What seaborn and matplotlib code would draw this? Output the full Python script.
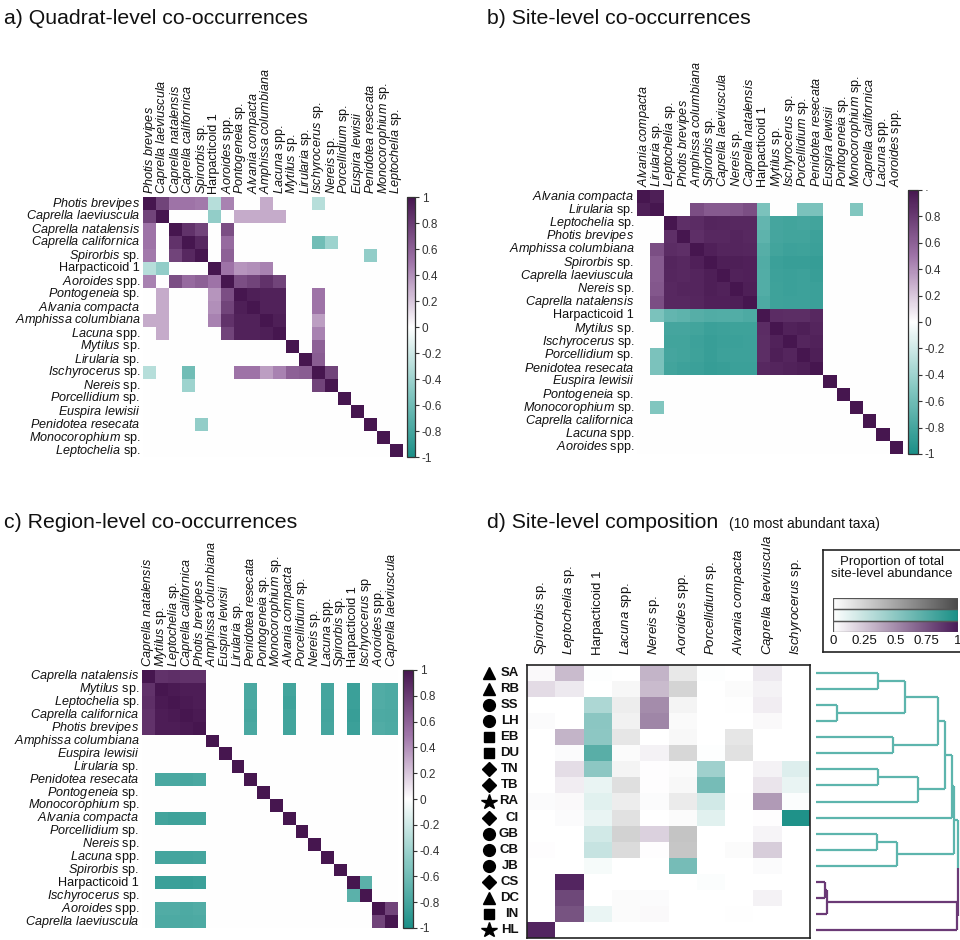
import numpy as np
import pandas as pd
import matplotlib
matplotlib.use("Agg")
import matplotlib.pyplot as plt
import matplotlib.transforms as mtransforms
from matplotlib.colors import LinearSegmentedColormap
from matplotlib.patches import Rectangle
import seaborn as sns

sns.set_theme(style="white")
plt.rcParams["font.family"] = ["Liberation Sans", "DejaVu Sans"]
plt.rcParams["mathtext.fontset"] = "custom"
plt.rcParams["mathtext.it"] = "Liberation Sans:italic"
plt.rcParams["mathtext.rm"] = "Liberation Sans"
plt.rcParams["mathtext.bf"] = "Liberation Sans:bold"

# ---------------- a) quadrat-level co-occurrences ----------------
taxa_a = ["Photis brevipes", "Caprella laeviuscula", "Caprella natalensis",
          "Caprella californica", "Spirorbis sp.", "Harpacticoid 1", "Aoroides spp.",
          "Pontogeneia sp.", "Alvania compacta", "Amphissa columbiana", "Lacuna spp.",
          "Mytilus sp.", "Lirularia sp.", "Ischyrocerus sp.", "Nereis sp.",
          "Porcellidium sp.", "Euspira lewisii", "Penidotea resecata",
          "Monocorophium sp.", "Leptochelia sp."]
# (row, column, correlation) for the upper triangle; the diagonal is 1
pairs_a = [(0, 1, 0.75), (0, 2, 0.50), (0, 3, 0.50), (0, 4, 0.48), (0, 5, -0.30),
           (0, 6, 0.45), (0, 9, 0.30), (0, 13, -0.30),
           (1, 5, -0.45), (1, 7, 0.30), (1, 8, 0.30), (1, 9, 0.30), (1, 10, 0.30),
           (2, 3, 0.85), (2, 4, 0.75), (2, 6, 0.70),
           (3, 4, 0.90), (3, 6, 0.55), (3, 13, -0.60), (3, 14, -0.40),
           (4, 6, 0.60), (4, 17, -0.45),
           (5, 6, 0.50), (5, 7, 0.38), (5, 8, 0.40), (5, 9, 0.45),
           (6, 7, 0.70), (6, 8, 0.75), (6, 9, 0.85), (6, 10, 0.75),
           (7, 8, 0.95), (7, 9, 0.93), (7, 10, 0.93), (7, 13, 0.50),
           (8, 9, 0.93), (8, 10, 0.93), (8, 13, 0.50),
           (9, 10, 0.95), (9, 13, 0.35), (10, 13, 0.45),
           (11, 13, 0.60), (12, 13, 0.62), (13, 14, 0.75)]

# ---------------- b) site-level co-occurrences ----------------
taxa_b = ["Alvania compacta", "Lirularia sp.", "Leptochelia sp.", "Photis brevipes",
          "Amphissa columbiana", "Spirorbis sp.", "Caprella laeviuscula", "Nereis sp.",
          "Caprella natalensis", "Harpacticoid 1", "Mytilus sp.", "Ischyrocerus sp.",
          "Porcellidium sp.", "Penidotea resecata", "Euspira lewisii", "Pontogeneia sp.",
          "Monocorophium sp.", "Caprella californica", "Lacuna spp.", "Aoroides spp."]
# lower triangle of the first 14 taxa
lower_b = [
    [1.00],
    [0.95, 1.00],
    [0, 0, 1.00],
    [0, 0, 0.86, 1.00],
    [0, 0.70, 0.88, 0.86, 1.00],
    [0, 0.64, 0.92, 0.90, 0.94, 1.00],
    [0, 0.64, 0.91, 0.90, 0.92, 0.95, 1.00],
    [0, 0.65, 0.90, 0.92, 0.92, 0.95, 0.93, 1.00],
    [0, 0.70, 0.90, 0.90, 0.91, 0.94, 0.94, 0.95, 1.00],
    [0, -0.55, -0.66, -0.68, -0.72, -0.75, -0.74, -0.74, -0.76, 1.00],
    [0, 0, -0.80, -0.80, -0.82, -0.85, -0.84, -0.83, -0.83, 0.88, 1.00],
    [0, 0, -0.82, -0.82, -0.84, -0.86, -0.85, -0.85, -0.84, 0.87, 0.93, 1.00],
    [0, -0.55, -0.80, -0.82, -0.83, -0.86, -0.84, -0.84, -0.84, 0.87, 0.95, 0.92, 1.00],
    [0, -0.55, -0.82, -0.84, -0.85, -0.87, -0.86, -0.85, -0.85, 0.90, 0.92, 0.93, 0.95, 1.00],
]
pairs_b = [(1, 16, -0.52)]

# ---------------- c) region-level co-occurrences ----------------
taxa_c = ["Caprella natalensis", "Mytilus sp.", "Leptochelia sp.", "Caprella californica",
          "Photis brevipes", "Amphissa columbiana", "Euspira lewisii", "Lirularia sp.",
          "Penidotea resecata", "Pontogeneia sp.", "Monocorophium sp.", "Alvania compacta",
          "Porcellidium sp.", "Nereis sp.", "Lacuna spp.", "Spirorbis sp.",
          "Harpacticoid 1", "Ischyrocerus sp.", "Aoroides spp.", "Caprella laeviuscula"]
cols_c = taxa_c[:17] + ["Ischyrocerus sp"] + taxa_c[18:]
lower_c = [
    [1.00],
    [0.85, 1.00],
    [0.86, 0.97, 1.00],
    [0.85, 0.96, 0.97, 1.00],
    [0.85, 0.96, 0.96, 0.97, 1.00],
]
# correlations of single taxa with Mytilus, Leptochelia, C. californica, Photis
neg_rows_c = {8: [-0.78, -0.78, -0.79, -0.78],
              11: [-0.82, -0.83, -0.82, -0.82],
              14: [-0.80, -0.80, -0.81, -0.80],
              16: [-0.85, -0.85, -0.86, -0.85],
              18: [-0.75, -0.75, -0.76, -0.75],
              19: [-0.76, -0.76, -0.77, -0.76]}
pairs_c = [(16, 17, -0.70), (18, 19, 0.75)]

# ---------------- d) site-level composition ----------------
sites = ["SA", "RB", "SS", "LH", "EB", "DU", "TN", "TB", "RA", "CI",
         "GB", "CB", "JB", "CS", "DC", "IN", "HL"]
site_marker = ["^", "^", "o", "o", "s", "s", "D", "D", "*", "D",
               "o", "o", "o", "D", "^", "s", "*"]
taxa_d = ["Spirorbis sp.", "Leptochelia sp.", "Harpacticoid 1", "Lacuna spp.",
          "Nereis sp.", "Aoroides spp.", "Porcellidium sp.", "Alvania compacta",
          "Caprella laeviuscula", "Ischyrocerus sp."]
proportion = [
    [0.03, 0.30, 0.01, 0.00, 0.33, 0.13, 0.01, 0.00, 0.10, 0.00],  # SA
    [0.16, 0.10, 0.00, 0.05, 0.30, 0.24, 0.00, 0.02, 0.06, 0.00],  # RB
    [0.00, 0.00, 0.36, 0.10, 0.50, 0.06, 0.00, 0.01, 0.08, 0.00],  # SS
    [0.02, 0.00, 0.51, 0.08, 0.53, 0.03, 0.00, 0.00, 0.03, 0.00],  # LH
    [0.00, 0.33, 0.50, 0.14, 0.00, 0.04, 0.00, 0.14, 0.00, 0.00],  # EB
    [0.00, 0.02, 0.73, 0.02, 0.06, 0.22, 0.01, 0.17, 0.00, 0.00],  # DU
    [0.00, 0.15, 0.50, 0.06, 0.01, 0.02, 0.42, 0.00, 0.06, 0.15],  # TN
    [0.00, 0.08, 0.10, 0.18, 0.01, 0.04, 0.60, 0.00, 0.12, 0.10],  # TB
    [0.02, 0.03, 0.13, 0.10, 0.02, 0.11, 0.20, 0.01, 0.44, 0.02],  # RA
    [0.00, 0.02, 0.10, 0.17, 0.00, 0.02, 0.13, 0.00, 0.01, 0.98],  # CI
    [0.00, 0.00, 0.20, 0.25, 0.20, 0.33, 0.00, 0.00, 0.05, 0.00],  # GB
    [0.01, 0.00, 0.25, 0.20, 0.01, 0.32, 0.00, 0.02, 0.22, 0.00],  # CB
    [0.00, 0.00, 0.04, 0.00, 0.00, 0.60, 0.00, 0.00, 0.02, 0.00],  # JB
    [0.00, 0.95, 0.00, 0.00, 0.00, 0.00, 0.02, 0.00, 0.00, 0.00],  # CS
    [0.00, 0.80, 0.00, 0.02, 0.02, 0.00, 0.00, 0.00, 0.06, 0.00],  # DC
    [0.00, 0.75, 0.09, 0.02, 0.03, 0.00, 0.00, 0.01, 0.00, 0.00],  # IN
    [0.95, 0.00, 0.00, 0.00, 0.00, 0.00, 0.00, 0.00, 0.00, 0.00],  # HL
]
taxon_group = ["purple", "purple", "teal", "grey", "purple",
               "grey", "teal", "grey", "purple", "teal"]
group_exceptions = [("JB", "Aoroides spp.", "teal")]

# site dendrogram: (child, child, height, colour); leaves are 0-16, merges 17+
site_merges = [
    (0, 1, 0.44, "teal"), (2, 3, 0.15, "teal"), (17, 18, 0.63, "teal"),
    (4, 5, 0.54, "teal"), (19, 20, 0.86, "teal"), (6, 7, 0.44, "teal"),
    (22, 8, 0.72, "teal"), (21, 23, 0.91, "teal"), (24, 9, 0.96, "teal"),
    (10, 11, 0.43, "teal"), (26, 12, 0.57, "teal"), (25, 27, 0.97, "teal"),
    (13, 14, 0.06, "purple"), (29, 15, 0.08, "purple"), (30, 16, 0.99, "purple"),
    (28, 31, 1.00, "split"),
]

legend_ticks = [0, 0.25, 0.5, 0.75, 1]

# ---------------- styling ----------------
W, H = 960, 940
fig = plt.figure(figsize=(W / 100, H / 100), dpi=100)
fig.patch.set_facecolor("white")

div_cmap = LinearSegmentedColormap.from_list(
    "teal_purple",
    [(0.0, "#1b8f87"), (0.25, "#86c8c2"), (0.5, "#ffffff"),
     (0.75, "#9f74a8"), (1.0, "#46164f")])
seq_cmaps = {
    "grey": LinearSegmentedColormap.from_list("g", ["#ffffff", "#4b4b4b"]),
    "teal": LinearSegmentedColormap.from_list("t", ["#ffffff", "#1b9087"]),
    "purple": LinearSegmentedColormap.from_list("p", ["#ffffff", "#4a1a58"]),
}
line_cols = {"teal": "#5db5ad", "purple": "#6b3a76"}


def px_rect(x0, y0, x1, y1):
    return [x0 / W, 1 - y1 / H, (x1 - x0) / W, (y1 - y0) / H]


def fmt(name):
    if name.startswith("Harpacticoid"):
        return name
    parts = name.split(" ")
    if parts[-1] in ("sp.", "spp.", "sp"):
        return r"$\mathit{" + r"\ ".join(parts[:-1]) + "}$ " + parts[-1]
    return r"$\mathit{" + r"\ ".join(parts) + "}$"


def build(n, lower=(), pairs=(), extra_rows=None):
    m = np.zeros((n, n))
    np.fill_diagonal(m, 1.0)
    for i, row in enumerate(lower):
        for j, v in enumerate(row):
            m[i, j] = m[j, i] = v
    for i, j, v in pairs:
        m[i, j] = m[j, i] = v
    if extra_rows:
        for i, vals in extra_rows.items():
            for k, v in enumerate(vals):
                m[i, k + 1] = m[k + 1, i] = v
    return m


def corr_panel(rect, cbar_rect, mat, rows, cols, top_label="1"):
    ax = fig.add_axes(rect)
    cax = fig.add_axes(cbar_rect)
    df = pd.DataFrame(mat, index=rows, columns=cols)
    sns.heatmap(df, cmap=div_cmap, vmin=-1, vmax=1, ax=ax, cbar_ax=cax,
                xticklabels=[fmt(c) for c in cols],
                yticklabels=[fmt(r) for r in rows])
    ax.xaxis.tick_top()
    ax.tick_params(axis="both", length=0, labelsize=9.1, pad=2, colors="#111111")
    plt.setp(ax.get_xticklabels(), rotation=90, ha="center", va="bottom")
    plt.setp(ax.get_yticklabels(), rotation=0)
    ticks = [1, 0.8, 0.6, 0.4, 0.2, 0, -0.2, -0.4, -0.6, -0.8, -1]
    cax.set_yticks(ticks)
    cax.set_yticklabels([top_label] + ["0.8", "0.6", "0.4", "0.2", "0", "-0.2",
                                       "-0.4", "-0.6", "-0.8", "-1"])
    cax.tick_params(axis="y", right=True, length=3, width=0.8, labelsize=8.5,
                    pad=2, colors="#333333")
    cb = ax.collections[0].colorbar
    cb.outline.set_linewidth(0.9)
    cb.outline.set_edgecolor("#333333")
    return ax


# a)
mat_a = build(20, pairs=pairs_a)
corr_panel(px_rect(143, 197, 403, 457), px_rect(407, 197, 415, 457),
           mat_a, taxa_a, taxa_a)
# b)
mat_b = build(20, lower=lower_b, pairs=pairs_b)
corr_panel(px_rect(637, 190, 903, 454), px_rect(908, 190, 918, 454),
           mat_b, taxa_b, taxa_b, top_label="\u00b7")
# c)
mat_c = build(20, lower=lower_c, pairs=pairs_c, extra_rows=neg_rows_c)
corr_panel(px_rect(142, 670, 398, 928), px_rect(403, 670, 413, 928),
           mat_c, taxa_c, cols_c)

# d) composition heatmap, each cell shaded with its taxon group's colour ramp
df_d = pd.DataFrame(proportion, index=sites, columns=taxa_d)
groups = pd.DataFrame([taxon_group] * len(sites), index=sites, columns=taxa_d)
for site, taxon, g in group_exceptions:
    groups.loc[site, taxon] = g

ax_d = fig.add_axes(px_rect(527, 665, 810, 938))
for g, cm in seq_cmaps.items():
    sns.heatmap(df_d, mask=(groups != g).values, cmap=cm, vmin=0, vmax=1,
                cbar=False, ax=ax_d, xticklabels=[fmt(t) for t in taxa_d],
                yticklabels=sites)
ax_d.set_facecolor("white")
ax_d.xaxis.tick_top()
ax_d.tick_params(axis="x", length=0, labelsize=9.5, pad=7, colors="#111111")
ax_d.tick_params(axis="y", length=0, labelsize=9.5, pad=6, colors="#111111")
plt.setp(ax_d.get_xticklabels(), rotation=90, ha="center", va="bottom")
plt.setp(ax_d.get_yticklabels(), rotation=0, fontweight="bold")
for sp in ax_d.spines.values():
    sp.set_visible(True)
    sp.set_color("#222222")
    sp.set_linewidth(1.2)

marker_size = {"^": 9, "o": 8.5, "s": 7.5, "D": 7, "*": 11.5}
blend = mtransforms.blended_transform_factory(ax_d.transAxes, ax_d.transData)
for i, m in enumerate(site_marker):
    ax_d.plot(-0.136, i + 0.5, marker=m, color="black", ms=marker_size[m],
              mec="black", transform=blend, clip_on=False, linestyle="none")

# dendrogram of sites
ax_den = fig.add_axes(px_rect(816, 665, 958, 938))
ax_den.set_ylim(len(sites), 0)
ax_den.set_xlim(0, 1.0)
ax_den.axis("off")
node_y = {i: i + 0.5 for i in range(len(sites))}
node_h = {i: 0.0 for i in range(len(sites))}
node_col = {}
for k, (a, b, h, col) in enumerate(site_merges):
    nid = len(sites) + k
    ya, yb = node_y[a], node_y[b]
    if col == "split":
        ca = line_cols[node_col.get(a, "teal")]
        cb_ = line_cols[node_col.get(b, "teal")]
    else:
        ca = cb_ = line_cols[col]
    ym = (ya + yb) / 2
    for (x0, x1, y0, y1, c) in [(node_h[a], h, ya, ya, ca), (node_h[b], h, yb, yb, cb_),
                                (h, h, ya, ym, ca), (h, h, ym, yb, cb_)]:
        ax_den.plot([x0, x1], [y0, y1], color=c, lw=1.6, clip_on=False,
                    solid_capstyle="butt")
    node_y[nid] = ym
    node_h[nid] = h
    node_col[nid] = col

# legend box with the three colour ramps
ax_box = fig.add_axes(px_rect(823, 550, 980, 652))
ax_box.set_xticks([])
ax_box.set_yticks([])
ax_box.set_facecolor("white")
for sp in ax_box.spines.values():
    sp.set_color("#222222")
    sp.set_linewidth(1.2)
fig.text(892 / W, 1 - 556 / H, "Proportion of total\nsite-level abundance",
         ha="center", va="top", fontsize=9.5, linespacing=1.05, color="#111111")

ax_g = fig.add_axes(px_rect(833, 598, 958, 632))
grad = np.linspace(0, 1, 256)[None, :]
for k, g in enumerate(["purple", "teal", "grey"]):
    ax_g.imshow(grad, cmap=seq_cmaps[g], extent=(0, 1, k, k + 1), aspect="auto",
                vmin=0, vmax=1)
    ax_g.add_patch(Rectangle((0, k), 1, 1, fill=False, ec="#555555", lw=0.9))
ax_g.set_xlim(0, 1)
ax_g.set_ylim(0, 3)
ax_g.set_yticks([])
ax_g.set_xticks(legend_ticks)
ax_g.set_xticklabels(["0", "0.25", "0.5", "0.75", "1"])
ax_g.tick_params(axis="x", length=0, labelsize=9.5, pad=2, colors="#111111")
for sp in ax_g.spines.values():
    sp.set_visible(False)

# panel titles
title_kw = dict(fontsize=15.3, va="center", ha="left", color="#111111")
fig.text(4 / W, 1 - 18 / H, "a) Quadrat-level co-occurrences", **title_kw)
fig.text(487 / W, 1 - 18 / H, "b) Site-level co-occurrences", **title_kw)
fig.text(4 / W, 1 - 522 / H, "c) Region-level co-occurrences", **title_kw)
fig.text(487 / W, 1 - 522 / H, "d) Site-level composition", **title_kw)
fig.text(729 / W, 1 - 524 / H, "(10 most abundant taxa)", fontsize=10,
         va="center", ha="left", color="#111111")

fig.savefig("out.png", dpi=100, facecolor="white")
